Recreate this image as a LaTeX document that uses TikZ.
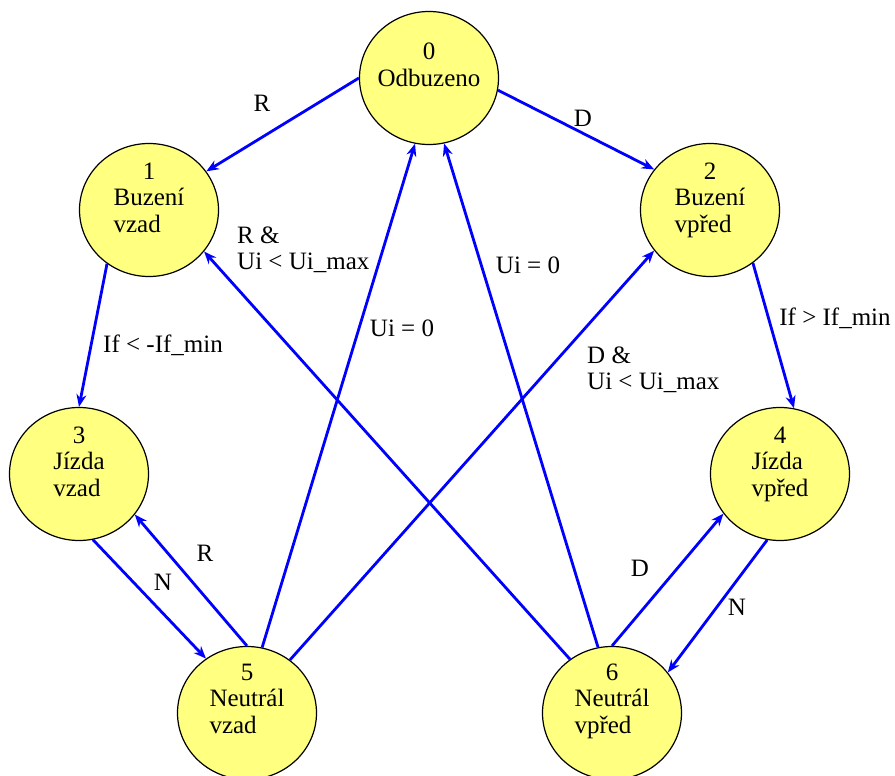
\documentclass[tikz,border=0pt]{standalone}
\usepackage{fontspec}
\setmainfont{Liberation Serif}
\usetikzlibrary{arrows.meta,shapes.geometric}
\definecolor{stfill}{RGB}{255,255,128}
\definecolor{edgeblue}{RGB}{0,0,255}
\newcommand\sttext[3]{\begin{tabular}[t]{@{}c@{}}#1\\\begin{tabular}[t]{@{}l@{}}#2\\#3\end{tabular}\end{tabular}}
\newcommand\twoline[2]{\begin{tabular}[t]{@{}l@{}}#1\\#2\end{tabular}}
\begin{document}
\begin{tikzpicture}[x=1pt,y=-1pt,
 every node/.style={font=\fontsize{25}{26.5}\selectfont},
 state/.style={ellipse,draw=black,line width=1.2pt,fill=stfill,minimum width=139pt,minimum height=133pt,inner sep=0pt},
 stxt/.style={anchor=base,inner sep=0pt},
 lbl/.style={anchor=base,inner sep=0pt},
 lblw/.style={anchor=base west,inner sep=0pt},
 tr/.style={draw=edgeblue,line width=2.8pt,-{Stealth[length=12.5pt,width=10pt]}}]
\useasboundingbox (0,0) rectangle (895,776);
% states
\node[state] (n0) at (429,78) {};
\node[state] (n1) at (149,210) {};
\node[state] (n2) at (710,210) {};
\node[state] (n3) at (79,474) {};
\node[state] (n4) at (780,474) {};
\node[state] (n5) at (247,713) {};
\node[state] (n6) at (612,713) {};
% state texts
\node[stxt] (t0) at (429,60) {\begin{tabular}[t]{@{}c@{}}0\\Odbuzeno\end{tabular}};
\node[stxt] (t1) at (149,179) {\sttext{1}{Buzení}{vzad}};
\node[stxt] (t2) at (710,179) {\sttext{2}{Buzení}{vpřed}};
\node[stxt] (t3) at (79,443) {\sttext{3}{Jízda}{vzad}};
\node[stxt] (t4) at (780,443) {\sttext{4}{Jízda}{vpřed}};
\node[stxt] (t5) at (247,680) {\sttext{5}{Neutrál}{vzad}};
\node[stxt] (t6) at (612,680) {\sttext{6}{Neutrál}{vpřed}};
% transitions
\draw[tr] (n0.180) -- (n1.34);
\draw[tr] (n0.-10) -- (n2.144);
\draw[tr] (n1.232) -- (n3.90);
\draw[tr] (n2.-51) -- (n4.78);
\draw[tr] (n3.-78) -- (n5.127);
\draw[tr] (n5.90) -- (n3.-36);
\draw[tr] (n5.77) -- (n0.258);
\draw[tr] (n5.51) -- (n2.216);
\draw[tr] (n6.128) -- (n1.-37);
\draw[tr] (n6.102) -- (n0.283);
\draw[tr] (n6.90) -- (n4.215);
\draw[tr] (n4.259) -- (n6.36);
% labels
\node[lbl] (lR1) at (262,112) {R};
\node[lbl] (lD1) at (583,126) {D};
\node[lbl] (lif1) at (163,352) {If < -If\_min};
\node[lbl] (lif2) at (835,325) {If > If\_min};
\node[lblw] (lRU) at (237,243) {\twoline{R \&}{Ui < Ui\_max}};
\node[lblw] (lDU) at (587,363) {\twoline{D \&}{Ui < Ui\_max}};
\node[lbl] (lu1) at (402,336) {Ui = 0};
\node[lbl] (lu2) at (528,273) {Ui = 0};
\node[lbl] (lN1) at (163,590) {N};
\node[lbl] (lR2) at (205,561) {R};
\node[lbl] (lD2) at (640,576) {D};
\node[lbl] (lN2) at (737,615) {N};
\end{tikzpicture}
\end{document}
